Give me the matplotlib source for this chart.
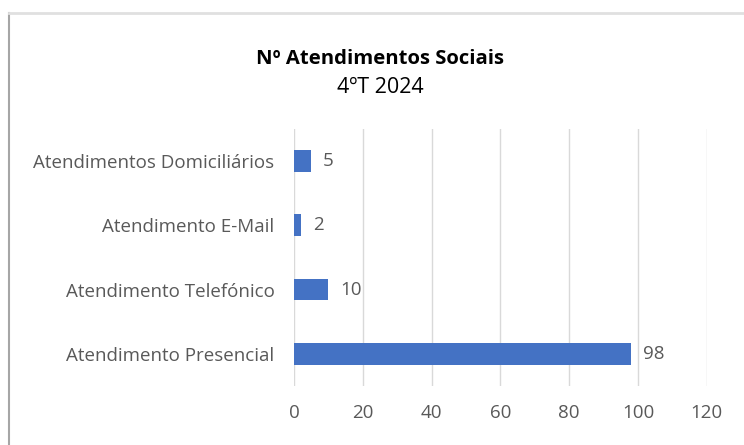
import matplotlib
matplotlib.use("Agg")
import matplotlib.pyplot as plt
from matplotlib.lines import Line2D

# dados do gráfico
categorias = ["Atendimento Presencial", "Atendimento Telefónico",
              "Atendimento E-Mail", "Atendimentos Domiciliários"]
valores = [98, 10, 2, 5]
ticks_x = [0, 20, 40, 60, 80, 100, 120]

plt.rcParams['font.family'] = ['Open Sans', 'DejaVu Sans']

fig = plt.figure(figsize=(7.44, 4.45), dpi=100)
ax = fig.add_axes([0.395, 0.133, 0.555, 0.577])

azul = "#4472C4"
cinza = "#595959"

ax.barh(categorias, valores, height=0.34, color=azul, zorder=3)
for i, v in enumerate(valores):
    ax.text(v + 3.5, i, str(v), va='center', ha='left', fontsize=13.5, color=cinza)

ax.set_xlim(0, 120)
ax.set_ylim(-0.5, 3.5)
ax.set_xticks(ticks_x)
ax.grid(axis='x', color='#D9D9D9', linewidth=1, zorder=0)
for s in ax.spines.values():
    s.set_visible(False)
ax.tick_params(axis='both', length=0, labelsize=13.5, labelcolor=cinza)
ax.tick_params(axis='x', pad=13)
ax.tick_params(axis='y', pad=14)

fig.text(0.511, 0.868, "Nº Atendimentos Sociais", ha='center', va='center',
         fontsize=14.6, fontweight='bold', color='black')
fig.text(0.511, 0.803, "4ºT 2024", ha='center', va='center',
         fontsize=15.5, color='black')

# moldura (sombra do gráfico)
fig.add_artist(Line2D([0.012, 0.012], [0, 0.970], color='#A6A6A6', linewidth=1.5,
                      transform=fig.transFigure))
fig.add_artist(Line2D([0.012, 1.0], [0.970, 0.970], color='#E0E0E0', linewidth=2,
                      transform=fig.transFigure))

fig.savefig("out.png", dpi=100)
